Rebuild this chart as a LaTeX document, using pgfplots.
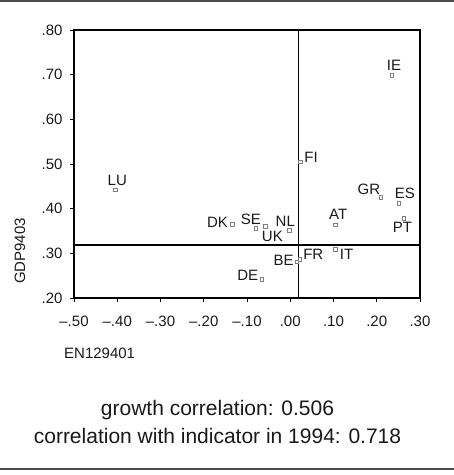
\documentclass[border=0pt]{standalone}
\usepackage{fontspec}
\setmainfont{Liberation Sans}
\usepackage{pgfplots}
\usepackage{pgfplotstable}
\pgfplotsset{compat=1.18}
\pgfplotstableread{
x y lbl dx dy
-0.404 0.442 LU 1.8 9.7
-0.134 0.365 DK -14.8 2.3
-0.079 0.356 SE -5.3 8.6
-0.058 0.360 UK 7.2 -9.6
-0.002 0.352 NL -4.1 8.5
0.015 0.281 BE -13.0 1.7
0.0225 0.287 FR 13.3 5.1
-0.066 0.242 DE -13.9 3.5
0.105 0.364 AT 2.6 10.5
0.105 0.309 IT 11.0 -4.9
0.210 0.425 GR -12.2 8.5
0.251 0.412 ES 6.0 9.8
0.263 0.378 PT -1.5 -9.2
0.235 0.698 IE 2.2 10.5
0.024 0.505 FI 10.5 4.5
}\pts
\begin{document}
\begin{tikzpicture}
\useasboundingbox (0,0) rectangle (454bp,475bp);
\draw[line width=2bp, black!70] (0,474bp) -- (454bp,474bp);
\draw[line width=2bp, black!70] (0,5.5bp) -- (454bp,5.5bp);
\begin{axis}[
  at={(74bp,177bp)}, anchor=south west, scale only axis,
  width=346bp, height=268bp,
  xmin=-0.5, xmax=0.3, ymin=0.2, ymax=0.8,
  xtick={-0.5,-0.4,-0.3,-0.2,-0.1,0,0.1,0.2,0.3},
  xticklabels={–.50,–.40,–.30,–.20,–.10,.00,.10,.20,.30},
  ytick={0.2,0.3,0.4,0.5,0.6,0.7,0.8},
  yticklabels={.20,.30,.40,.50,.60,.70,.80},
  xtick pos=bottom, ytick pos=left, tick align=outside,
  major tick length=4bp,
  tick style={black, line width=0.8bp},
  axis line style={line width=1.3bp},
  ticklabel style={font=\fontsize{15bp}{18bp}\selectfont, inner sep=0pt, text=black!90},
  xticklabel style={anchor=north, yshift=-14bp},
  yticklabel style={anchor=east, xshift=-7.3bp},
  clip=false,
]
\addplot[line width=1bp, black] coordinates {(0.019,0.2) (0.019,0.8)};
\addplot[line width=1.5bp, black] coordinates {(-0.5,0.319) (0.3,0.319)};
\addplot[only marks, mark=square*, mark size=1.8bp,
  mark options={draw=black!50, fill=white, line width=0.8bp},
  point meta=explicit symbolic,
  visualization depends on={\thisrow{dx}\as\dx},
  visualization depends on={\thisrow{dy}\as\dy},
  nodes near coords,
  every node near coord/.append style={anchor=center, inner sep=0pt,
    xshift=\dx bp, yshift=\dy bp, font=\fontsize{15bp}{18bp}\selectfont, text=black!90},
] table[x=x, y=y, meta=lbl] {\pts};
\end{axis}
\node[anchor=base west, font=\fontsize{15bp}{18bp}\selectfont, inner sep=0pt, text=black!90] at (64bp,116.5bp) {EN129401};
\node[rotate=90, font=\fontsize{15bp}{18bp}\selectfont, inner sep=0pt, text=black!90] at (20bp,224bp) {GDP9403};
\node[anchor=base, font=\fontsize{21bp}{25bp}\selectfont, inner sep=0pt, text=black!90] at (217.5bp,59bp) {growth correlation: 0.506};
\node[anchor=base, font=\fontsize{21bp}{25bp}\selectfont, inner sep=0pt, text=black!90] at (217.5bp,32bp) {correlation with indicator in 1994: 0.718};
\end{tikzpicture}
\end{document}
